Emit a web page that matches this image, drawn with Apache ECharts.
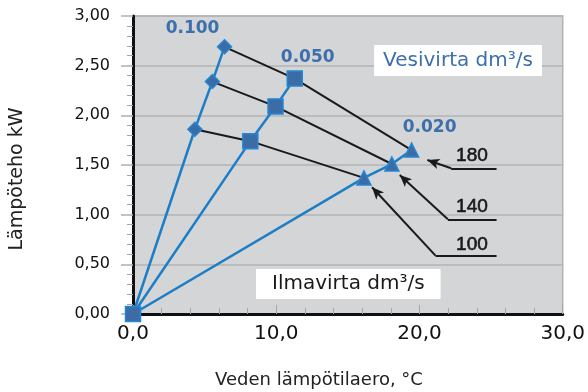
<!DOCTYPE html>
<html>
<head>
<meta charset="utf-8">
<script src="https://cdn.jsdelivr.net/npm/echarts@6/dist/echarts.min.js"></script>
<style>
html,body{margin:0;padding:0;background:#fff;}
#chart{width:588px;height:392px;}
</style>
</head>
<body>
<div id="chart"></div>
<script>
// Water flow series (dm3/s), points: origin, air 100, air 140, air 180
const waterFlowNames = ['0.100', '0.050', '0.020'];
const water0100 = [[0, 0], [4.32, 1.86], [5.54, 2.34], [6.39, 2.69]];
const water0050 = [[0, 0], [8.19, 1.74], [9.95, 2.09], [11.29, 2.37]];
const water0020 = [[0, 0], [16.12, 1.37], [18.07, 1.51], [19.45, 1.65]];
const waterSymbols = ['diamond', 'rect', 'triangle'];
const waterSymbolSizes = [14, 15, 14];
const waterLabelOffsets = [[-32, -18], [13, -21], [18, -23]];

// Air flow labels (dm3/s) and their annotation leader lines
const airFlowNames = ['100', '140', '180'];
const airLabelPos = [[23.66, 0.70], [23.66, 1.08], [23.66, 1.59]];
const arrowTip = [[16.69, 1.276], [18.62, 1.399], [20.55, 1.55]];
const arrowBend = [[21.12, 0.587], [21.98, 0.953], [22.21, 1.467]];
const underlineEnd = [[25.38, 0.587], [25.38, 0.953], [25.38, 1.467]];

// Box captions
const captionTexts = ['Vesivirta dm³/s', 'Ilmavirta dm³/s'];
const captionPos = [[22.69, 2.552], [15.03, 0.302]];

const xTicks = {min: 0, max: 30, interval: 10};
const yTicks = {min: 0, max: 3, interval: 0.5};

const FONT = 'DejaVu Sans';
const BLUE = '#1b7ec6';
const MARK = '#3b6ca6';
const MARKB = '#2487d2';
const waterData = [water0100, water0050, water0020];

const series = [];

// Air flow black lines (connect the k-th point of each water series)
for (let k = 1; k <= 3; k++) {
  series.push({
    type: 'line', z: 2, silent: true, symbol: 'none',
    lineStyle: {color: '#1a1a1a', width: 2},
    data: waterData.map(w => w[k])
  });
}

// Water flow blue lines with markers
waterData.forEach((w, i) => {
  series.push({
    type: 'line', z: 4, silent: true,
    symbol: waterSymbols[i], symbolSize: waterSymbolSizes[i],
    lineStyle: {color: BLUE, width: 2.5},
    itemStyle: {color: MARK, borderColor: MARKB, borderWidth: 1.5, opacity: 1},
    data: w.map((p, j) => {
      const item = {value: p};
      if (j === 0) {
        if (i === 1) { item.symbol = 'rect'; item.symbolSize = 15; }
        else { item.symbol = 'none'; }
      }
      if (j === w.length - 1) {
        item.label = {
          show: true, formatter: waterFlowNames[i], position: 'inside',
          offset: waterLabelOffsets[i], color: '#3c6fab',
          fontFamily: FONT, fontWeight: 'bold', fontSize: 17
        };
      }
      return item;
    })
  });
});

// Leader lines with arrows
const mlData = [];
for (let i = 0; i < 3; i++) {
  mlData.push([{coord: underlineEnd[i], symbol: 'none'}, {coord: arrowBend[i], symbol: 'none'}]);
  mlData.push([{coord: arrowBend[i], symbol: 'none'}, {coord: arrowTip[i], symbol: 'arrow', symbolSize: [8, 12]}]);
}
series.push({
  type: 'scatter', z: 3, silent: true, symbolSize: 0,
  itemStyle: {opacity: 1},
  data: airFlowNames.map((n, i) => ({value: airLabelPos[i], name: n})),
  label: {show: true, position: 'inside', formatter: '{b}', color: '#1a1a1a',
    fontFamily: 'Liberation Sans', fontSize: 19, textBorderColor: '#1a1a1a', textBorderWidth: 0.6},
  markLine: {
    silent: true, animation: false,
    lineStyle: {color: '#1a1a1a', width: 2, type: 'solid'},
    label: {show: false},
    data: mlData
  }
});

// Caption boxes
series.push({
  type: 'scatter', z: 5, silent: true, symbolSize: 0,
  itemStyle: {opacity: 1},
  data: [
    {value: captionPos[0], name: captionTexts[0], label: {color: '#3c6fab', padding: [6, 9, 5, 9]}},
    {value: captionPos[1], name: captionTexts[1], label: {color: '#1a1a1a', padding: [5, 16, 5, 16]}}
  ],
  label: {
    show: true, position: 'inside', formatter: '{b}', fontFamily: FONT, fontSize: 20,
    backgroundColor: '#ffffff'
  }
});

const chart = echarts.init(document.getElementById('chart'), null, {renderer: 'canvas'});
chart.setOption({
  animation: false,
  backgroundColor: '#ffffff',
  grid: {left: 133, right: 20, top: 16, bottom: 78, show: true, backgroundColor: '#d4d5d7', borderColor: '#b3b3b3', borderWidth: 1.5},
  xAxis: {
    type: 'value', min: xTicks.min, max: xTicks.max, interval: xTicks.interval,
    axisLine: {show: true, onZero: false, lineStyle: {color: '#111', width: 3}},
    axisTick: {show: true, inside: true, length: 9, lineStyle: {color: '#a6a6a6', width: 1}},
    minorTick: {show: true, splitNumber: 5, length: 6, lineStyle: {color: '#a6a6a6', width: 1}},
    splitLine: {show: false},
    axisLabel: {fontFamily: FONT, fontSize: 20, color: '#111', margin: 10,
      formatter: v => v.toFixed(1).replace('.', ',')}
  },
  yAxis: {
    type: 'value', min: yTicks.min, max: yTicks.max, interval: yTicks.interval,
    axisLine: {show: true, onZero: false, lineStyle: {color: '#111', width: 3}},
    axisTick: {show: true, length: 12, lineStyle: {color: '#b0b0b0', width: 1.5}},
    minorTick: {show: true, splitNumber: 5, length: 6, lineStyle: {color: '#a6a6a6', width: 1}},
    splitLine: {show: true, lineStyle: {color: '#b2b3b5', width: 1.5}},
    axisLabel: {fontFamily: FONT, fontSize: 16, color: '#111', margin: 23,
      formatter: v => v.toFixed(2).replace('.', ',')}
  },
  graphic: [
    {type: 'text', silent: true, x: 17, y: 179, rotation: Math.PI / 2,
      style: {text: 'Lämpöteho kW', fontFamily: FONT, fontSize: 19, fill: '#222', align: 'center', verticalAlign: 'middle'}},
    {type: 'text', silent: true, x: 319, y: 380,
      style: {text: 'Veden lämpötilaero, °C', fontFamily: FONT, fontSize: 18, fill: '#222', align: 'center', verticalAlign: 'middle'}}
  ],
  series: series
});
</script>
</body>
</html>
